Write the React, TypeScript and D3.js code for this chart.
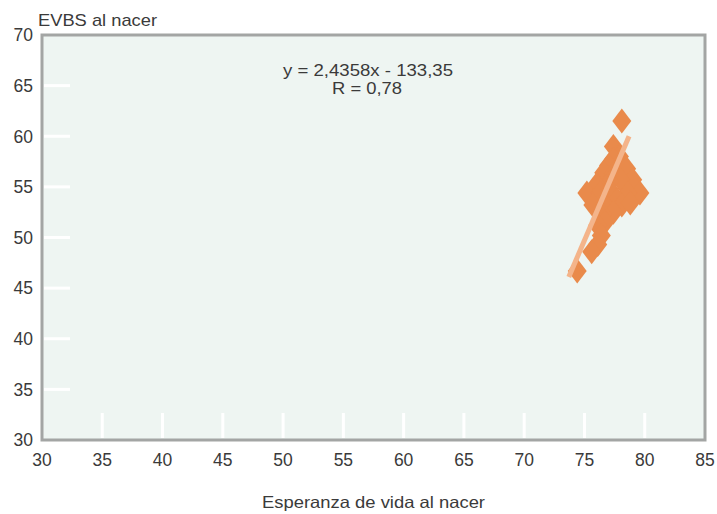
import React from "react";
import * as d3 from "d3";

const xTicks = [30, 35, 40, 45, 50, 55, 60, 65, 70, 75, 80, 85];
const yTicks = [30, 35, 40, 45, 50, 55, 60, 65, 70];

const pointsX = [78.1, 77.4, 77.9, 77.4, 77.0, 78.0, 78.5, 76.6, 77.4, 79.0, 78.0, 77.1, 76.0, 79.6, 75.2, 76.3, 77.3, 78.6, 77.7, 75.7, 76.7, 78.1, 78.8, 77.4, 76.5, 76.7, 76.1, 76.4, 76.1, 75.6, 74.4];
const pointsY = [61.5, 59.0, 58.0, 57.7, 57.1, 57.1, 56.8, 56.4, 56.3, 55.7, 55.7, 55.5, 55.2, 54.4, 54.4, 54.4, 54.4, 54.4, 53.7, 53.2, 53.2, 53.2, 53.4, 52.5, 52.3, 51.5, 51.2, 50.2, 49.3, 48.6, 46.7];

const trendX = [73.7, 78.7];
const trendY = [46.1, 60.0];

const equationText = "y = 2,4358x - 133,35";
const rText = "R = 0,78";
const yTitle = "EVBS al nacer";
const xTitle = "Esperanza de vida al nacer";

export default function App() {
  const W = 717, H = 514;
  const left = 42, right = 705, top = 35, bottom = 440;
  const x = d3.scaleLinear().domain([30, 85]).range([left, right]);
  const y = d3.scaleLinear().domain([30, 70]).range([bottom, top]);
  const font = "'Liberation Sans', Arial, sans-serif";
  const hw = 9.5, hh = 12.5;
  const diamond = (cx: number, cy: number) =>
    `M${cx},${cy - hh}L${cx + hw},${cy}L${cx},${cy + hh}L${cx - hw},${cy}Z`;
  const line = d3.line<number>().x((_, i) => x(trendX[i])).y((d) => y(d));
  const txt = "#3a3a3a";

  return (
    <svg width={W} height={H} style={{ position: "absolute", left: 0, top: 0 }} fontFamily={font}>
      <rect x={0} y={0} width={W} height={H} fill="#ffffff" />
      <rect x={left} y={top} width={right - left} height={bottom - top} fill="#eef5f2" stroke="#a3a5a4" strokeWidth={3} />
      {yTicks.filter((t) => t > 30 && t < 70).map((t) => (
        <line key={"yt" + t} x1={left + 2} x2={left + 28} y1={y(t)} y2={y(t)} stroke="#ffffff" strokeWidth={3} />
      ))}
      {xTicks.filter((t) => t > 30 && t < 85).map((t) => (
        <line key={"xt" + t} x1={x(t)} x2={x(t)} y1={bottom - 2} y2={bottom - 27} stroke="#ffffff" strokeWidth={3} />
      ))}
      {pointsX.map((px, i) => (
        <path key={"p" + i} d={diamond(x(px), y(pointsY[i]))} fill="#e98a4b" />
      ))}
      <path d={line(trendY) || ""} stroke="#f4b48a" strokeWidth={5} fill="none" />
      {yTicks.map((t) => (
        <text key={"yl" + t} x={33} y={y(t)} dy="0.36em" textAnchor="end" fontSize={17.5} fill={txt}>{t}</text>
      ))}
      {xTicks.map((t) => (
        <text key={"xl" + t} x={x(t)} y={466} textAnchor="middle" fontSize={17.5} fill={txt}>{t}</text>
      ))}
      <text x={38} y={26} fontSize={17} fill={txt} textLength={119} lengthAdjust="spacingAndGlyphs">{yTitle}</text>
      <text x={262} y={508} fontSize={16.5} fill={txt} textLength={223} lengthAdjust="spacingAndGlyphs">{xTitle}</text>
      <text x={283} y={76} fontSize={17} fill={txt} textLength={170} lengthAdjust="spacingAndGlyphs">{equationText}</text>
      <text x={332} y={94} fontSize={17} fill={txt} textLength={70} lengthAdjust="spacingAndGlyphs">{rText}</text>
    </svg>
  );
}
